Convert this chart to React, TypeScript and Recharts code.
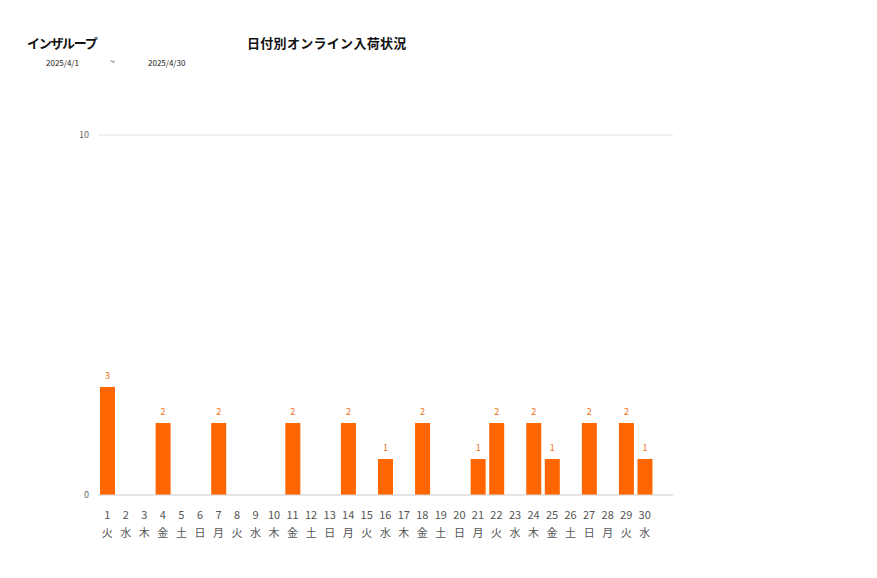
import React from "react";
import { BarChart, Bar, XAxis, YAxis, CartesianGrid, LabelList } from "recharts";

const days = ["1","2","3","4","5","6","7","8","9","10","11","12","13","14","15","16","17","18","19","20","21","22","23","24","25","26","27","28","29","30"];
const weekdays = ["火","水","木","金","土","日","月","火","水","木","金","土","日","月","火","水","木","金","土","日","月","火","水","木","金","土","日","月","火","水"];
const values = [3,0,0,2,0,0,2,0,0,0,2,0,0,2,0,1,0,2,0,0,1,2,0,2,1,0,2,0,2,1];
const yTicks = [0, 10];

const data = days.map((d, i) => ({ day: d, wd: weekdays[i], value: values[i] }));

const FONT = "'Noto Sans CJK JP', 'Noto Sans', sans-serif";

const DayTick = (props: any) => {
  const { x, y, payload, index } = props;
  return (
    <g>
      <text x={x} y={y + 16} textAnchor="middle" fontSize={11} fill="#555" fontFamily={FONT}>{payload.value}</text>
      <text x={x} y={y + 34} textAnchor="middle" fontSize={11} fill="#555" fontFamily={FONT}>{weekdays[index]}</text>
    </g>
  );
};

export default function App() {
  return (
    <div style={{ position: "absolute", left: 0, top: 0, width: 877, height: 578, background: "#fff", fontFamily: FONT }}>
      <div style={{ position: "absolute", left: 27, top: 33, fontSize: 13, fontWeight: 700, color: "#111", whiteSpace: "nowrap", letterSpacing: -1.3 }}>インザループ</div>
      <div style={{ position: "absolute", left: 247, top: 33, fontSize: 13, fontWeight: 700, color: "#111", whiteSpace: "nowrap", letterSpacing: 0.3 }}>日付別オンライン入荷状況</div>
      <div style={{ position: "absolute", left: 46, top: 57, fontSize: 8, color: "#222" }}>2025/4/1</div>
      <div style={{ position: "absolute", left: 110, top: 55, fontSize: 9, color: "#222" }}>~</div>
      <div style={{ position: "absolute", left: 148, top: 57, fontSize: 8, color: "#222" }}>2025/4/30</div>
      <div style={{ position: "absolute", left: 0, top: 0 }}>
        <BarChart width={877} height={578} data={data} margin={{ top: 135, right: 204, left: 0, bottom: 33 }}>
          <CartesianGrid horizontal vertical={false} stroke="#e3e3e3" />
          <XAxis
            dataKey="day"
            interval={0}
            height={50}
            tickLine={false}
            axisLine={{ stroke: "#d9d9d9" }}
            tick={<DayTick />}
            padding={{ left: 0, right: 19 }}
          />
          <YAxis
            width={98}
            domain={[0, 10]}
            ticks={yTicks}
            axisLine={false}
            tickLine={false}
            tickSize={0}
            tickMargin={9}
            tick={{ fontSize: 9, fill: "#666", fontFamily: FONT }}
          />
          <Bar dataKey="value" fill="#ff6600" barSize={15} isAnimationActive={false}>
            <LabelList
              dataKey="value"
              position="top"
              offset={8}
              fontSize={9}
              fill="#ef7120"
              fontFamily={FONT}
              formatter={(v: any) => (v ? v : "")}
            />
          </Bar>
        </BarChart>
      </div>
    </div>
  );
}
